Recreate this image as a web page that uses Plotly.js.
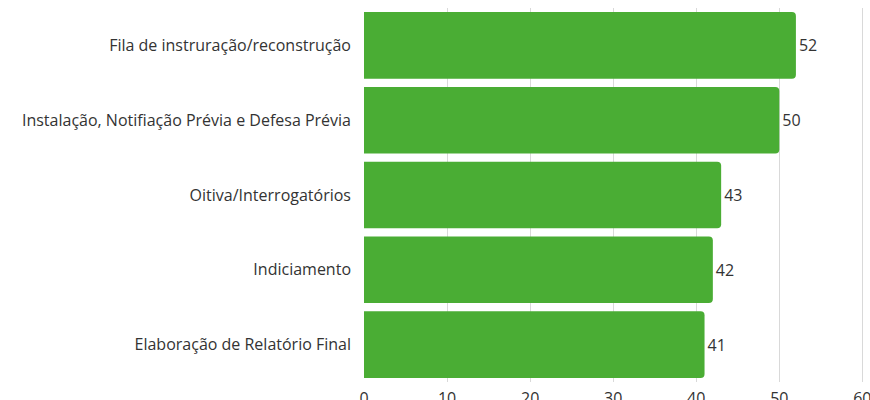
<!DOCTYPE html>
<html>
<head>
<meta charset="utf-8">
<script src="https://cdn.plot.ly/plotly-3.0.1.min.js"></script>
<style>html,body{margin:0;padding:0;background:#fff;}#chart{width:870px;height:400px;}</style>
</head>
<body>
<div id="chart"></div>
<script>
const categories = [
  "Fila de instruração/reconstrução",
  "Instalação, Notifiação Prévia e Defesa Prévia",
  "Oitiva/Interrogatórios",
  "Indiciamento",
  "Elaboração de Relatório Final"
];
const values = [52, 50, 43, 42, 41];
const tickValues = [0, 10, 20, 30, 40, 50, 60];

const FONT = '"Open Sans", sans-serif';

const trace = {
  type: 'bar',
  orientation: 'h',
  y: categories,
  x: values,
  text: values.map(String),
  textposition: 'outside',
  cliponaxis: false,
  textfont: {family: FONT, size: 16, color: '#333333'},
  marker: {color: '#4aad34', cornerradius: 4},
  hoverinfo: 'none'
};

const layout = {
  width: 870, height: 400,
  margin: {l: 364, r: 1, t: 7.5, b: 17.5, pad: 0},
  paper_bgcolor: '#ffffff',
  plot_bgcolor: '#ffffff',
  bargap: 0.11,
  showlegend: false,
  font: {family: FONT, size: 16, color: '#333333'},
  xaxis: {
    range: [0, 60.8],
    tickvals: tickValues,
    ticktext: tickValues.map(String),
    showgrid: true,
    gridcolor: '#d9d9d9',
    gridwidth: 1,
    zeroline: false,
    showline: false,
    ticks: '',
    ticklabelstandoff: 5,
    ticklabeloverflow: 'allow',
    tickfont: {family: FONT, size: 16, color: '#333333'}
  },
  yaxis: {
    autorange: 'reversed',
    showgrid: false,
    zeroline: false,
    showline: false,
    ticks: '',
    ticklabelstandoff: 12,
    tickfont: {family: FONT, size: 16, color: '#333333'}
  }
};

Plotly.newPlot('chart', [trace], layout, {displayModeBar: false, staticPlot: true});
</script>
</body>
</html>
